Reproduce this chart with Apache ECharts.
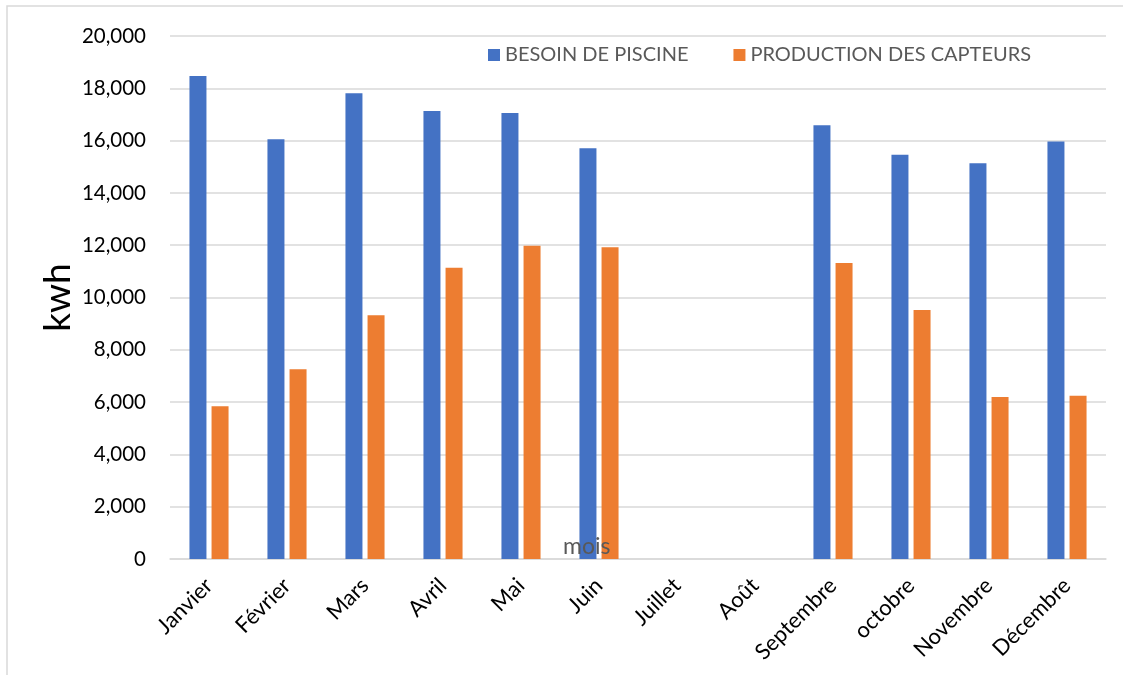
<!DOCTYPE html>
<html>
<head>
<meta charset="utf-8">
<script src="https://cdn.jsdelivr.net/npm/echarts@6/dist/echarts.min.js"></script>
<style>
  html, body { margin: 0; padding: 0; background: #fff; }
  #chart { width: 1123px; height: 675px; }
</style>
</head>
<body>
<div id="chart"></div>
<script>
// Monthly pool heating demand vs. solar collector output (kWh)
const months = ['Janvier', 'Février', 'Mars', 'Avril', 'Mai', 'Juin', 'Juillet', 'Août',
                'Septembre', 'octobre', 'Novembre', 'Décembre'];
const besoinPiscine = [18470, 16050, 17810, 17130, 17055, 15705, null, null, 16585, 15460, 15130, 15970];
const productionCapteurs = [5840, 7255, 9320, 11140, 11980, 11920, null, null, 11320, 9520, 6195, 6245];
const yTicks = { min: 0, max: 20000, interval: 2000 };

const FONT = 'Lato, "Open Sans", sans-serif';

const chart = echarts.init(document.getElementById('chart'));
chart.setOption({
  animation: false,
  backgroundColor: '#ffffff',
  textStyle: { fontFamily: FONT },
  graphic: [
    {
      type: 'rect',
      shape: { x: 7, y: 6, width: 1140, height: 700 },
      style: { fill: 'none', stroke: '#d9d9d9', lineWidth: 1.5 },
      silent: true
    },
    {
      type: 'text',
      left: 563, top: 535,
      z: 100,
      style: { text: 'mois', font: '23px ' + FONT, fill: '#595959' },
      silent: true
    }
  ],
  legend: {
    top: 40,
    left: 483,
    itemWidth: 12,
    itemHeight: 12,
    itemGap: 45,
    icon: 'rect',
    textStyle: { fontSize: 20, color: '#595959', fontFamily: FONT }
  },
  grid: { left: 170, right: 17, top: 36, bottom: 116 },
  xAxis: {
    type: 'category',
    data: months,
    axisTick: { show: false },
    axisLine: { show: true, lineStyle: { color: '#d9d9d9', width: 1.5 } },
    axisLabel: { rotate: 45, fontSize: 22, color: '#000', margin: 23, interval: 0, fontFamily: FONT }
  },
  yAxis: {
    type: 'value',
    min: yTicks.min, max: yTicks.max, interval: yTicks.interval,
    name: 'kwh',
    nameLocation: 'middle',
    nameGap: 93,
    nameMoveOverlap: false,
    nameTextStyle: { fontSize: 37, color: '#000', fontFamily: FONT },
    axisLine: { show: false },
    axisTick: { show: false },
    axisLabel: {
      fontSize: 20.5, color: '#000', margin: 24, fontFamily: FONT,
      formatter: v => v.toLocaleString('en-US')
    },
    splitLine: { lineStyle: { color: '#d9d9d9', width: 1.5 } }
  },
  series: [
    {
      name: 'BESOIN DE PISCINE',
      type: 'bar',
      data: besoinPiscine,
      barWidth: 17,
      barGap: '30%',
      itemStyle: { color: '#4472C4' }
    },
    {
      name: 'PRODUCTION DES CAPTEURS',
      type: 'bar',
      data: productionCapteurs,
      barWidth: 17,
      barGap: '30%',
      itemStyle: { color: '#ED7D31' }
    }
  ]
});
</script>
</body>
</html>
